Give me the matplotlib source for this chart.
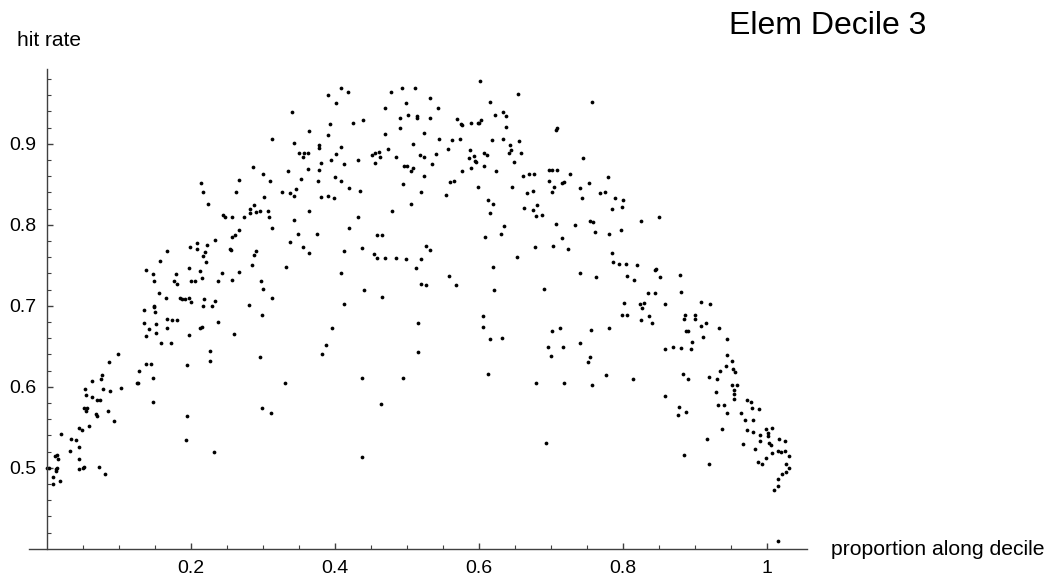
import matplotlib
matplotlib.use('Agg')
import matplotlib.pyplot as plt
from matplotlib.ticker import FixedLocator
import numpy as np

plt.rcParams['font.family'] = ['Liberation Sans', 'DejaVu Sans']

# (proportion along decile, hit rate), left part of the arc
rise_pts = [
    (0.312, 0.906), (0.286, 0.871), (0.300, 0.863), (0.335, 0.866), (0.310, 0.854),
    (0.267, 0.855), (0.214, 0.852), (0.216, 0.840), (0.262, 0.840), (0.326, 0.840),
    (0.337, 0.839), (0.301, 0.834), (0.223, 0.826), (0.287, 0.824), (0.282, 0.819),
    (0.296, 0.817), (0.290, 0.816), (0.307, 0.817), (0.282, 0.814), (0.244, 0.812),
    (0.247, 0.809), (0.257, 0.810), (0.273, 0.809), (0.309, 0.809), (0.313, 0.796),
    (0.266, 0.794), (0.261, 0.787), (0.257, 0.785), (0.337, 0.779), (0.233, 0.781),
    (0.209, 0.777), (0.222, 0.775), (0.198, 0.772), (0.208, 0.770), (0.166, 0.767),
    (0.219, 0.766), (0.254, 0.770), (0.255, 0.769), (0.290, 0.767), (0.288, 0.763),
    (0.216, 0.761), (0.221, 0.754), (0.157, 0.755), (0.137, 0.744), (0.147, 0.739),
    (0.179, 0.739), (0.197, 0.746), (0.213, 0.743), (0.243, 0.741), (0.267, 0.742),
    (0.285, 0.750), (0.332, 0.748), (0.148, 0.730), (0.176, 0.730), (0.181, 0.727),
    (0.200, 0.731), (0.205, 0.730), (0.215, 0.734), (0.237, 0.731), (0.257, 0.732),
    (0.297, 0.731), (0.300, 0.721), (0.156, 0.716), (0.165, 0.710), (0.185, 0.710),
    (0.188, 0.708), (0.192, 0.708), (0.197, 0.710), (0.200, 0.705), (0.218, 0.708),
    (0.233, 0.706), (0.312, 0.709), (0.148, 0.700), (0.148, 0.698), (0.150, 0.692),
    (0.135, 0.695), (0.216, 0.700), (0.229, 0.700), (0.281, 0.701), (0.299, 0.689),
    (0.166, 0.684), (0.174, 0.682), (0.180, 0.682), (0.237, 0.680), (0.135, 0.679),
    (0.151, 0.677),
]

rise_low_pts = [
    (0.166, 0.673), (0.142, 0.671), (0.138, 0.663), (0.152, 0.666), (0.158, 0.654),
    (0.172, 0.654), (0.197, 0.664), (0.212, 0.673), (0.215, 0.674), (0.260, 0.665),
    (0.227, 0.644), (0.227, 0.632), (0.296, 0.637), (0.195, 0.627), (0.098, 0.640),
    (0.086, 0.630), (0.138, 0.628), (0.145, 0.628), (0.128, 0.620), (0.062, 0.607),
    (0.075, 0.609), (0.076, 0.614), (0.147, 0.611), (0.053, 0.597), (0.078, 0.597),
    (0.088, 0.595), (0.103, 0.599), (0.125, 0.604), (0.127, 0.605), (0.054, 0.590),
    (0.063, 0.587), (0.069, 0.583), (0.074, 0.583), (0.330, 0.604), (0.052, 0.574),
    (0.056, 0.574), (0.054, 0.570), (0.085, 0.570), (0.147, 0.581), (0.068, 0.566),
    (0.069, 0.564), (0.093, 0.558), (0.058, 0.552), (0.045, 0.549), (0.048, 0.546),
    (0.019, 0.542), (0.195, 0.564), (0.299, 0.574), (0.311, 0.567), (0.034, 0.535),
    (0.040, 0.534), (0.045, 0.526), (0.193, 0.534), (0.032, 0.521), (0.011, 0.515),
    (0.014, 0.516), (0.015, 0.511), (0.044, 0.511), (0.232, 0.520), (0.000, 0.500),
    (0.003, 0.500), (0.012, 0.499), (0.014, 0.500), (0.013, 0.496), (0.045, 0.499),
    (0.050, 0.500), (0.052, 0.501), (0.072, 0.501), (0.009, 0.488), (0.080, 0.492),
    (0.018, 0.484), (0.009, 0.480),
]

# middle of the arc
peak_pts = [
    (0.601, 0.977), (0.409, 0.969), (0.418, 0.964), (0.390, 0.960), (0.401, 0.950),
    (0.478, 0.964), (0.493, 0.969), (0.511, 0.969), (0.532, 0.957), (0.499, 0.950),
    (0.543, 0.944), (0.470, 0.944), (0.616, 0.952), (0.654, 0.962), (0.340, 0.939),
    (0.393, 0.924), (0.425, 0.925), (0.439, 0.929), (0.490, 0.932), (0.501, 0.936),
    (0.514, 0.934), (0.514, 0.932), (0.532, 0.932), (0.491, 0.920), (0.569, 0.930),
    (0.575, 0.924), (0.577, 0.923), (0.589, 0.926), (0.598, 0.926), (0.600, 0.925),
    (0.603, 0.929), (0.622, 0.935), (0.633, 0.939), (0.638, 0.934), (0.637, 0.921),
    (0.364, 0.916), (0.390, 0.911), (0.470, 0.912), (0.523, 0.913), (0.544, 0.906),
    (0.563, 0.905), (0.573, 0.906), (0.557, 0.894), (0.618, 0.904), (0.634, 0.906),
    (0.643, 0.899), (0.656, 0.903), (0.645, 0.892), (0.642, 0.889), (0.658, 0.889),
    (0.343, 0.901), (0.378, 0.898), (0.378, 0.895), (0.408, 0.896), (0.473, 0.894),
    (0.508, 0.900), (0.350, 0.888), (0.357, 0.888), (0.363, 0.889), (0.355, 0.883),
    (0.401, 0.887), (0.395, 0.880), (0.452, 0.886), (0.456, 0.888), (0.461, 0.890),
    (0.462, 0.883), (0.455, 0.876), (0.485, 0.883), (0.518, 0.886), (0.524, 0.884),
    (0.541, 0.887), (0.535, 0.875), (0.587, 0.892), (0.586, 0.882), (0.593, 0.885),
    (0.595, 0.879), (0.596, 0.877), (0.607, 0.888), (0.611, 0.886), (0.607, 0.873),
    (0.648, 0.878), (0.380, 0.876), (0.413, 0.875), (0.432, 0.880), (0.496, 0.873),
    (0.500, 0.873), (0.508, 0.870), (0.505, 0.866), (0.363, 0.869), (0.378, 0.867),
    (0.400, 0.859), (0.408, 0.854), (0.353, 0.856), (0.376, 0.854), (0.577, 0.866),
    (0.589, 0.870), (0.623, 0.866), (0.661, 0.860), (0.669, 0.863), (0.677, 0.863),
    (0.494, 0.850), (0.523, 0.860), (0.560, 0.853), (0.566, 0.854), (0.346, 0.844),
    (0.343, 0.836), (0.381, 0.834), (0.391, 0.836), (0.399, 0.833), (0.420, 0.845),
    (0.435, 0.842), (0.520, 0.840), (0.554, 0.837), (0.599, 0.847), (0.646, 0.847),
    (0.667, 0.839), (0.675, 0.842), (0.613, 0.831), (0.620, 0.825), (0.616, 0.815),
    (0.662, 0.821), (0.681, 0.824), (0.675, 0.818), (0.679, 0.811), (0.506, 0.825),
    (0.479, 0.817), (0.364, 0.817), (0.343, 0.806), (0.432, 0.809), (0.419, 0.796),
    (0.635, 0.799), (0.630, 0.788), (0.608, 0.785), (0.348, 0.788), (0.375, 0.789),
    (0.459, 0.787), (0.466, 0.787), (0.355, 0.773), (0.364, 0.765), (0.413, 0.767),
    (0.438, 0.771), (0.454, 0.764), (0.458, 0.759), (0.469, 0.759), (0.485, 0.759),
    (0.498, 0.758), (0.519, 0.758), (0.527, 0.774), (0.532, 0.769), (0.513, 0.747),
    (0.678, 0.772), (0.653, 0.760), (0.620, 0.748), (0.409, 0.741), (0.558, 0.737),
    (0.568, 0.726), (0.520, 0.727), (0.526, 0.725), (0.621, 0.720), (0.440, 0.719),
    (0.466, 0.711), (0.412, 0.702), (0.606, 0.687), (0.515, 0.679),
]

peak_low_pts = [
    (0.396, 0.672), (0.388, 0.652), (0.382, 0.641), (0.438, 0.611), (0.494, 0.611),
    (0.516, 0.643), (0.464, 0.579), (0.437, 0.513), (0.606, 0.674), (0.615, 0.659),
    (0.632, 0.660), (0.612, 0.616), (0.679, 0.604),
]

# right part of the arc
fall_pts = [
    (0.757, 0.952), (0.707, 0.917), (0.709, 0.919), (0.744, 0.882), (0.697, 0.867),
    (0.701, 0.868), (0.708, 0.868), (0.726, 0.863), (0.779, 0.859), (0.697, 0.854),
    (0.704, 0.847), (0.716, 0.852), (0.718, 0.853), (0.753, 0.851), (0.741, 0.845),
    (0.701, 0.840), (0.743, 0.833), (0.768, 0.839), (0.775, 0.840), (0.789, 0.833),
    (0.800, 0.830), (0.798, 0.822), (0.785, 0.819), (0.688, 0.812), (0.707, 0.801),
    (0.734, 0.800), (0.754, 0.805), (0.759, 0.803), (0.825, 0.805), (0.850, 0.809),
    (0.761, 0.791), (0.780, 0.788), (0.797, 0.793), (0.716, 0.784), (0.703, 0.774),
    (0.723, 0.770), (0.785, 0.765), (0.786, 0.754), (0.794, 0.751), (0.804, 0.751),
    (0.820, 0.750), (0.844, 0.744), (0.846, 0.745), (0.740, 0.740), (0.763, 0.735),
    (0.805, 0.737), (0.816, 0.732), (0.852, 0.735), (0.879, 0.738), (0.691, 0.721),
    (0.835, 0.716), (0.845, 0.716), (0.881, 0.717), (0.801, 0.703), (0.823, 0.702),
    (0.829, 0.703), (0.827, 0.697), (0.858, 0.702), (0.909, 0.704), (0.921, 0.702),
    (0.799, 0.688), (0.806, 0.689), (0.836, 0.687), (0.825, 0.682), (0.841, 0.679),
    (0.886, 0.688), (0.885, 0.684), (0.900, 0.688), (0.900, 0.683), (0.915, 0.679),
]

fall_low_pts = [
    (0.701, 0.669), (0.713, 0.672), (0.755, 0.670), (0.781, 0.673), (0.696, 0.649),
    (0.717, 0.649), (0.700, 0.638), (0.741, 0.654), (0.751, 0.630), (0.754, 0.637),
    (0.718, 0.604), (0.757, 0.602), (0.777, 0.614), (0.814, 0.609), (0.693, 0.531),
    (0.859, 0.646), (0.870, 0.649), (0.880, 0.648), (0.894, 0.647), (0.896, 0.655),
    (0.887, 0.669), (0.891, 0.669), (0.908, 0.675), (0.911, 0.662), (0.934, 0.672),
    (0.944, 0.659), (0.945, 0.639), (0.952, 0.632), (0.943, 0.625), (0.935, 0.620),
    (0.953, 0.622), (0.955, 0.618), (0.920, 0.612), (0.930, 0.609), (0.951, 0.602),
    (0.959, 0.602), (0.954, 0.596), (0.954, 0.591), (0.954, 0.585), (0.929, 0.593),
    (0.884, 0.616), (0.890, 0.610), (0.858, 0.589), (0.878, 0.575), (0.876, 0.565),
    (0.887, 0.569), (0.932, 0.578), (0.941, 0.578), (0.944, 0.568), (0.964, 0.567),
    (0.972, 0.583), (0.978, 0.581), (0.979, 0.574), (0.989, 0.573), (0.969, 0.559),
    (0.981, 0.559), (0.937, 0.548), (0.917, 0.536), (0.919, 0.505), (0.885, 0.516),
    (0.972, 0.546), (0.981, 0.544), (0.967, 0.529), (0.990, 0.540), (0.991, 0.533),
    (0.983, 0.523), (0.999, 0.548), (1.007, 0.549), (1.001, 0.543), (1.001, 0.539),
    (1.003, 0.531), (1.006, 0.528), (1.017, 0.536), (1.025, 0.533), (0.988, 0.507),
    (0.993, 0.505), (0.998, 0.512), (1.007, 0.518), (1.016, 0.521), (1.020, 0.520),
    (1.025, 0.521), (1.031, 0.514), (1.027, 0.504), (1.030, 0.500), (1.026, 0.495),
    (1.021, 0.492), (1.016, 0.486), (1.016, 0.477), (1.010, 0.473), (1.016, 0.410),
]

x_major = [0.2, 0.4, 0.6, 0.8, 1.0]
x_major_labels = ['0.2', '0.4', '0.6', '0.8', '1']
y_major = [0.5, 0.6, 0.7, 0.8, 0.9]
y_major_labels = ['0.5', '0.6', '0.7', '0.8', '0.9']

all_pts = rise_pts + rise_low_pts + peak_pts + peak_low_pts + fall_pts + fall_low_pts
px = [p[0] for p in all_pts]
py = [p[1] for p in all_pts]

fig = plt.figure(figsize=(10.51, 5.88), dpi=100)
ax = fig.add_axes([0.02759, 0.0668, 0.7405, 0.8155])
ax.set_xlim(-0.025, 1.056)
ax.set_ylim(0.4, 0.992)

ax.plot(px, py, 'o', color='black', markersize=2.7, markeredgewidth=0, clip_on=False)

axis_col = '#404040'
for s in ['top', 'right']:
    ax.spines[s].set_visible(False)
ax.spines['left'].set_position(('data', 0))
ax.spines['left'].set_color(axis_col)
ax.spines['bottom'].set_color(axis_col)
ax.spines['left'].set_linewidth(1.0)
ax.spines['bottom'].set_linewidth(1.0)

ax.xaxis.set_major_locator(FixedLocator(x_major))
ax.set_xticklabels(x_major_labels)
ax.xaxis.set_minor_locator(FixedLocator(np.arange(0.05, 1.05, 0.05)))
ax.yaxis.set_major_locator(FixedLocator(y_major))
ax.set_yticklabels(y_major_labels)
ax.yaxis.set_minor_locator(FixedLocator(np.arange(0.42, 0.99, 0.02)))

ax.tick_params(which='both', direction='in', colors=axis_col, labelcolor='black',
               labelsize=14, pad=8)
ax.tick_params(which='major', length=4.3, width=1.0)
ax.tick_params(which='minor', length=2.6, width=0.8)

fig.text(0.016, 1 - 46 / 588, 'hit rate', fontsize=15, ha='left', va='baseline')
fig.text(831 / 1051, 1 - 555 / 588, 'proportion along decile', fontsize=15.2,
         ha='left', va='baseline')
fig.text(828 / 1051, 1 - 34 / 588, 'Elem Decile 3', fontsize=23,
         ha='center', va='baseline')

fig.savefig('out.png', dpi=100, facecolor='white')
